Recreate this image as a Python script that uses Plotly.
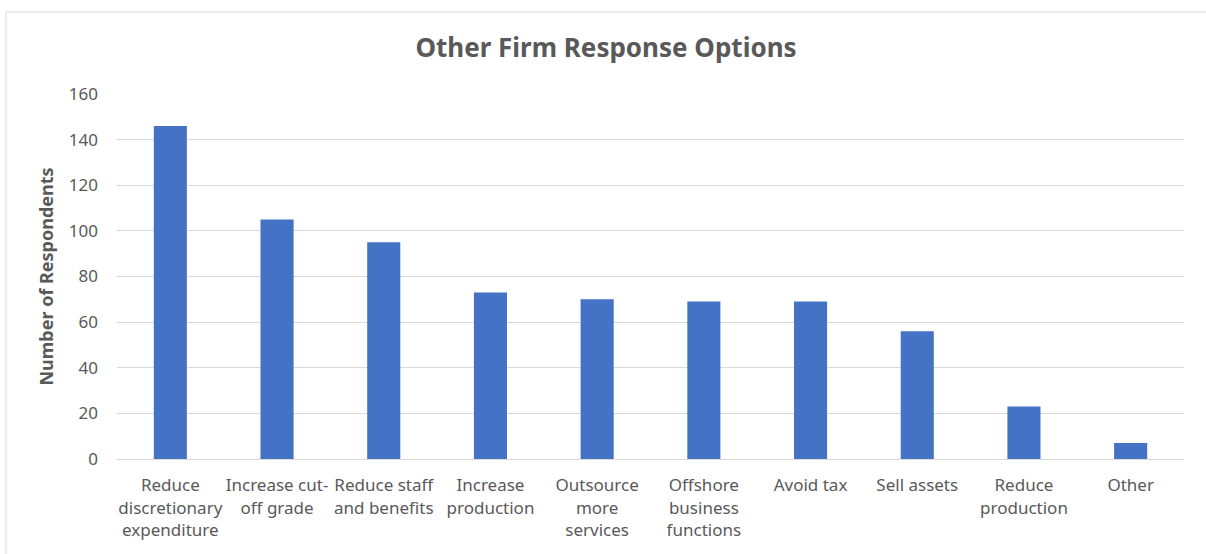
import plotly.graph_objects as go

categories = [
    "Reduce<br>discretionary<br>expenditure",
    "Increase cut-<br>off grade",
    "Reduce staff<br>and benefits",
    "Increase<br>production",
    "Outsource<br>more<br>services",
    "Offshore<br>business<br>functions",
    "Avoid tax",
    "Sell assets",
    "Reduce<br>production",
    "Other",
]
respondents = [146, 105, 95, 73, 70, 69, 69, 56, 23, 7]
y_ticks = [0, 20, 40, 60, 80, 100, 120, 140, 160]

W, H = 1206, 554
L, R, T, B = 117, 22, 94, 95
pw, ph = W - L - R, H - T - B

fig = go.Figure(
    go.Bar(x=categories, y=respondents, marker=dict(color="#4472C4", line=dict(width=0)))
)

font_family = "Noto Sans, Open Sans, sans-serif"
grey = "#595959"

fig.update_layout(
    width=W, height=H,
    margin=dict(l=L, r=R, t=T, b=B),
    paper_bgcolor="white", plot_bgcolor="white",
    bargap=0.69,
    showlegend=False,
    font=dict(family=font_family, color=grey, size=16),
    title=dict(
        text="<b>Other Firm Response Options</b>",
        x=606 / W, xanchor="center", xref="container",
        y=1 - 48 / H, yanchor="middle", yref="container",
        font=dict(size=26, color=grey, family=font_family),
    ),
    xaxis=dict(
        showgrid=False, showline=True, linecolor="#d9d9d9", linewidth=1,
        ticks="", tickfont=dict(size=17, color=grey), ticklabelstandoff=11,
        fixedrange=True,
    ),
    yaxis=dict(
        range=[0, 160], tickvals=y_ticks, showgrid=True, gridcolor="#d9d9d9",
        gridwidth=1, zeroline=False, showline=False, ticks="",
        tickfont=dict(size=17, color=grey), ticklabelstandoff=18,
        title=dict(text="<b>Number of Respondents</b>", font=dict(size=18, color=grey), standoff=10),
        fixedrange=True,
    ),
    shapes=[
        dict(
            type="rect", xref="paper", yref="paper",
            x0=(6 - L) / pw, x1=(W + 10 - L) / pw,
            y0=-(H + 10 - (T + ph)) / ph, y1=(T + ph - 12) / ph,
            line=dict(color="#d9d9d9", width=1), fillcolor="rgba(0,0,0,0)", layer="below",
        )
    ],
)

fig.write_html("out.html")
